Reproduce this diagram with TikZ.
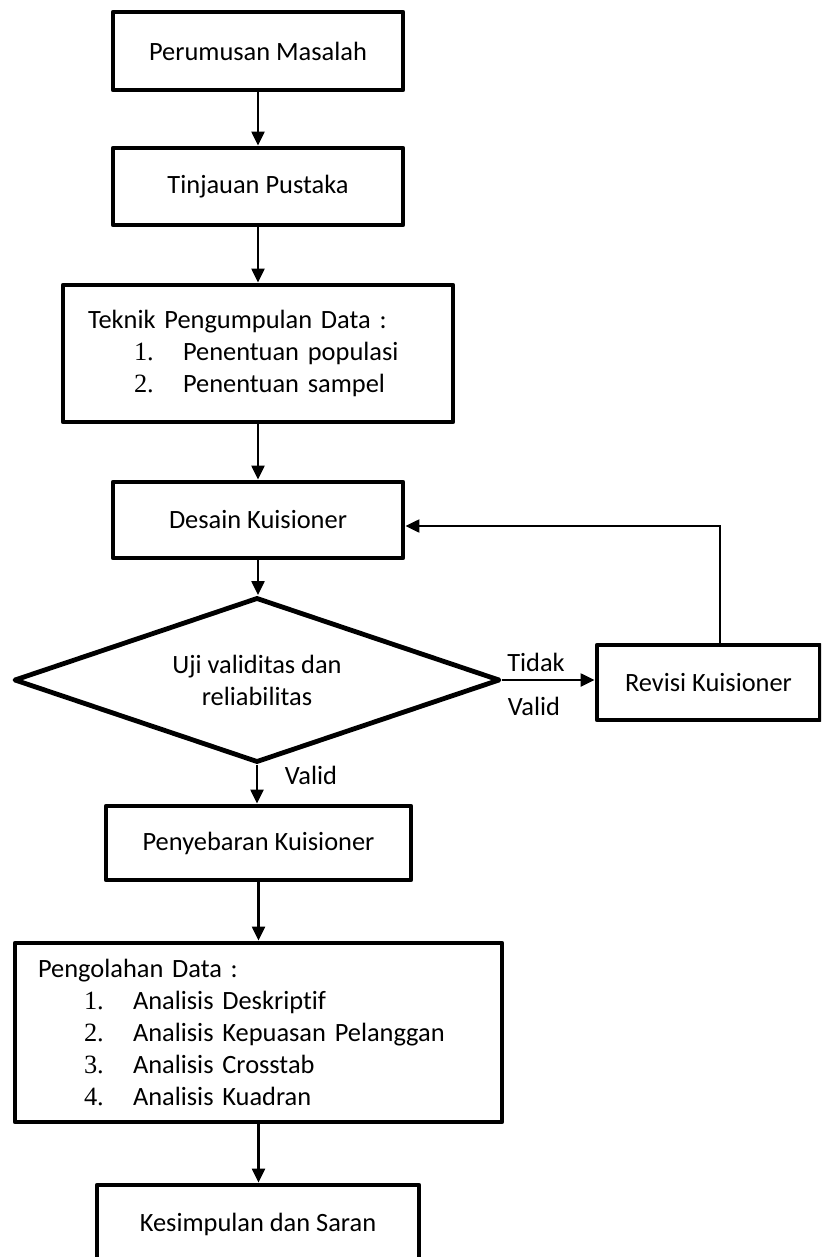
\documentclass[tikz,border=0pt]{standalone}
\usepackage{fontspec}
\setmainfont{Carlito}[Ligatures={NoCommon}]
\newfontfamily\angka{Liberation Serif}
\usetikzlibrary{shapes.geometric,arrows.meta}

\newcommand{\butir}[2]{\hspace*{23pt}\makebox[24.5pt][l]{\angka #1.}#2}

\begin{document}
\begin{tikzpicture}[x=0.5pt, y=-0.5pt,
  font=\fontsize{13.2pt}{16pt}\selectfont,
  kotak/.style={draw, line width=2.4pt, line join=round, align=center, inner sep=0pt},
  daftar/.style={kotak, align=left},
  panah/.style={line width=1.1pt, -{Triangle[length=7pt,width=6.5pt]}}]

  \useasboundingbox (0,0) rectangle (821,1257);
  \clip (0,0) rectangle (821,1257);

  \node[kotak, minimum width=145pt, minimum height=39pt] (rumusan) at (258,51) {Perumusan Masalah};
  \node[kotak, minimum width=145pt, minimum height=38.5pt] (pustaka) at (258,186.5) {Tinjauan Pustaka};
  \node[daftar, text width=170pt, inner xsep=12.5pt, minimum height=68.5pt] (teknik) at (258,353.5)
    {Teknik Pengumpulan Data :\\ \butir{1}{Penentuan populasi}\\ \butir{2}{Penentuan sampel}};
  \node[kotak, minimum width=145pt, minimum height=38pt] (desain) at (258,520) {Desain Kuisioner};
  \node[kotak, diamond, aspect=2.95, minimum width=243pt, minimum height=82.5pt] (uji) at (257,680)
    {Uji validitas dan\\reliabilitas};
  \node[kotak, minimum width=111.5pt, minimum height=37.5pt] (revisi) at (708.5,682.5) {Revisi Kuisioner};
  \node[kotak, minimum width=152.5pt, minimum height=37pt] (sebar) at (258.5,843) {Penyebaran Kuisioner};
  \node[daftar, text width=220.5pt, inner xsep=11.5pt, minimum height=89.5pt] (olah) at (258.5,1032.5)
    {Pengolahan Data :\\ \butir{1}{Analisis Deskriptif}\\ \butir{2}{Analisis Kepuasan Pelanggan}\\
     \butir{3}{Analisis Crosstab}\\ \butir{4}{Analisis Kuadran}};
  \node[kotak, minimum width=161pt, minimum height=39pt] (simpul) at (258,1224) {Kesimpulan dan Saran};

  \node (tidak) at (536,662) {Tidak};
  \node (validkanan) at (534,706) {Valid};
  \node (validbawah) at (311,775) {Valid};

  \foreach \a/\b in {rumusan/pustaka, pustaka/teknik, teknik/desain, desain/uji,
                     uji/sebar, sebar/olah, olah/simpul}
    \draw[panah] (\a.south) -- (\a.south |- \b.north);

  \draw[panah] (uji.east) -- (uji.east -| revisi.west);
  \coordinate (balik) at (720,526);
  \draw[panah] (revisi.north -| balik) -- (balik) -- (balik -| desain.east);
\end{tikzpicture}
\end{document}
